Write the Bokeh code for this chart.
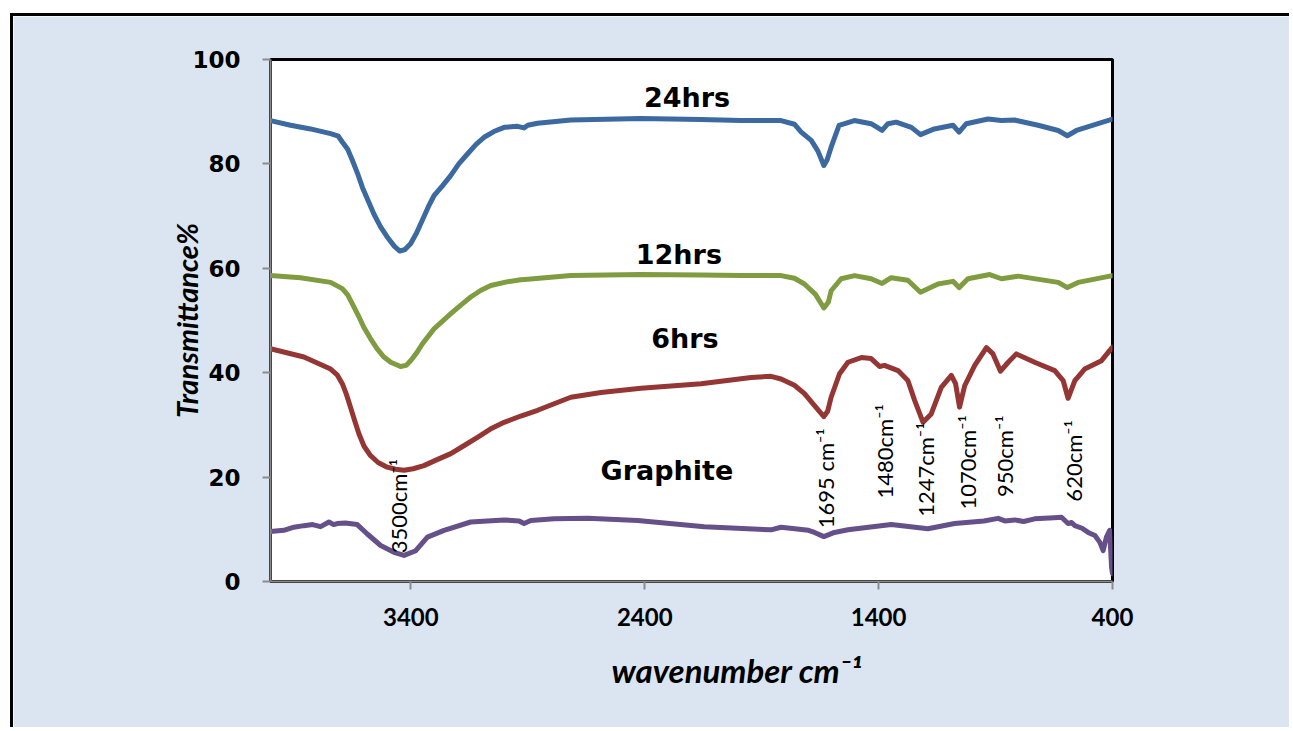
import math
from bokeh.plotting import figure
from bokeh.models import Range1d, FixedTicker, ColumnDataSource
from bokeh.core.properties import value
from bokeh.embed import file_html
from bokeh.resources import INLINE

# ---------------- data ----------------
wn_24 = [4000, 3914, 3829, 3743, 3710, 3693, 3670, 3650, 3628, 3607, 3582, 3558, 3530, 3501, 3470, 3447,
         3425, 3401, 3375, 3351, 3325, 3301, 3265, 3229, 3195, 3158, 3120, 3087, 3045, 3001, 2944, 2916,
         2900, 2858, 2716, 2416, 2159, 1988, 1817, 1760, 1731, 1688, 1660, 1634, 1620, 1603, 1569, 1504,
         1432, 1385, 1360, 1325, 1260, 1221, 1162, 1082, 1056, 1025, 932, 875, 819, 718, 632, 593, 554, 400]
t_24 = [88.3, 87.4, 86.7, 85.8, 85.3, 84.2, 82.8, 80.7, 78.2, 75.5, 72.9, 70.4, 68.0, 66.0, 64.2, 63.3,
        63.6, 64.7, 66.8, 69.2, 71.8, 73.9, 75.8, 77.8, 80.0, 81.9, 83.8, 85.1, 86.2, 87.0, 87.2, 86.9,
        87.4, 87.8, 88.4, 88.7, 88.5, 88.3, 88.3, 87.6, 86.1, 84.5, 82.5, 79.7, 80.8, 83.2, 87.4, 88.3,
        87.7, 86.4, 87.7, 88.0, 87.0, 85.6, 86.7, 87.4, 86.1, 87.7, 88.6, 88.3, 88.4, 87.4, 86.4, 85.4, 86.4, 88.6]

wn_12 = [4000, 3872, 3743, 3693, 3670, 3650, 3625, 3601, 3572, 3543, 3515, 3486, 3444, 3420, 3401, 3375,
         3351, 3301, 3229, 3185, 3144, 3100, 3058, 2990, 2930, 2900, 2716, 2416, 2159, 1988, 1817, 1760,
         1717, 1670, 1634, 1615, 1603, 1560, 1503, 1432, 1385, 1346, 1275, 1221, 1146, 1082, 1056, 1018,
         925, 875, 804, 632, 593, 547, 400]
t_12 = [58.6, 58.2, 57.3, 56.1, 54.9, 53.2, 51.0, 48.7, 46.5, 44.5, 43.0, 42.0, 41.2, 41.4, 42.3, 43.8,
        45.5, 48.4, 51.3, 53.0, 54.5, 55.8, 56.7, 57.4, 57.8, 57.9, 58.6, 58.8, 58.7, 58.6, 58.6, 58.1,
        57.0, 55.0, 52.4, 53.5, 55.7, 58.0, 58.6, 58.0, 57.1, 58.2, 57.7, 55.4, 57.0, 57.5, 56.3, 58.0,
        58.8, 58.0, 58.5, 57.3, 56.3, 57.3, 58.6]

wn_6 = [4000, 3857, 3743, 3715, 3693, 3675, 3658, 3640, 3622, 3600, 3572, 3540, 3501, 3465, 3429, 3390,
        3344, 3290, 3229, 3170, 3115, 3060, 3001, 2930, 2858, 2790, 2716, 2587, 2416, 2159, 1945, 1860,
        1817, 1760, 1717, 1674, 1634, 1618, 1603, 1567, 1531, 1474, 1432, 1396, 1375, 1317, 1275, 1246,
        1210, 1175, 1132, 1089, 1071, 1054, 1032, 989, 939, 911, 879, 846, 811, 733, 647, 611, 590, 561,
        519, 447, 400]
t_6 = [44.6, 43.0, 40.7, 39.6, 37.9, 35.8, 33.4, 30.8, 28.3, 25.9, 24.1, 22.8, 21.9, 21.5, 21.3, 21.6,
       22.2, 23.3, 24.5, 26.1, 27.6, 29.2, 30.5, 31.7, 32.8, 34.0, 35.3, 36.2, 37.0, 37.9, 39.1, 39.3,
       38.8, 37.6, 36.0, 33.7, 31.6, 32.6, 35.3, 39.8, 42.0, 42.9, 42.7, 41.2, 41.4, 40.4, 38.5, 34.7,
       30.5, 32.1, 37.2, 39.5, 37.9, 33.4, 37.5, 41.4, 44.8, 43.6, 40.3, 42.0, 43.6, 42.0, 40.4, 38.5, 35.1, 38.5,
       40.7, 42.3, 44.9]

wn_g = [4000, 3943, 3900, 3857, 3820, 3786, 3750, 3730, 3715, 3680, 3629, 3586, 3529, 3472, 3429, 3379,
        3329, 3258, 3144, 3001, 2937, 2916, 2887, 2787, 2644, 2430, 2145, 1860, 1817, 1700, 1674, 1634,
        1589, 1531, 1346, 1189, 1075, 950, 889, 860, 818, 780, 733, 650, 618, 590, 575, 561, 530, 504,
        475, 454, 440, 426, 412, 404, 400]
t_g = [9.6, 9.8, 10.4, 10.7, 10.9, 10.5, 11.4, 10.9, 11.1, 11.2, 10.9, 9.1, 6.9, 5.6, 5.0, 5.9,
       8.5, 9.8, 11.4, 11.8, 11.6, 11.1, 11.7, 12.0, 12.1, 11.7, 10.5, 9.9, 10.4, 9.8, 9.4, 8.6,
       9.4, 9.9, 10.9, 10.1, 11.1, 11.6, 12.1, 11.6, 11.8, 11.5, 12.0, 12.2, 12.3, 11.1, 11.3, 10.7, 10.2, 9.4,
       8.8, 7.5, 5.9, 8.5, 9.8, 2.7, 1.5]

series_names = ["24hrs", "12hrs", "6hrs", "Graphite"]
series_label_x = [2219, 2254, 2228, 2305]
series_label_y = [92.7, 62.6, 46.6, 21.3]

peak_labels = ["3500cm\u207b\u00b9", "1695 cm\u207b\u00b9", "1480cm\u207b\u00b9", "1247cm\u207b\u00b9",
               "1070cm\u207b\u00b9", "950cm\u207b\u00b9", "620cm\u207b\u00b9"]
peak_label_x = [3452, 1625, 1375, 1200, 1020, 862, 567]
peak_label_y = [5.4, 10.2, 15.9, 12.4, 13.8, 16.2, 15.3]

x_ticks = [3400, 2400, 1400, 400]
y_ticks = [0, 20, 40, 60, 80, 100]

# ---------------- figure ----------------
BG = "#dbe5f1"
p = figure(width=1279, height=714, output_backend="svg", toolbar_location=None,
           x_range=Range1d(4000, 400), y_range=Range1d(0, 100),
           min_border_left=257, min_border_right=180, min_border_top=43, min_border_bottom=149)
p.styles = {"margin-left": "10px", "margin-top": "13px",
            "border-top": "3px solid black", "border-left": "3px solid black"}
p.border_fill_color = BG
p.background_fill_color = "white"
p.outline_line_color = "black"
p.outline_line_width = 3
p.xgrid.visible = False
p.ygrid.visible = False

colors = ["#3c69a0", "#7f9c41", "#943634", "#66508a"]
for wn, t, c in [(wn_24, t_24, colors[0]), (wn_12, t_12, colors[1]), (wn_6, t_6, colors[2]), (wn_g, t_g, colors[3])]:
    p.line(wn, t, line_color=c, line_width=5, line_join="round", line_cap="round")

for ax in (p.xaxis[0], p.yaxis[0]):
    ax.axis_line_color = "#8c8c8c"
    ax.axis_line_width = 2
    ax.major_tick_line_color = "#8c8c8c"
    ax.major_tick_line_width = 2
    ax.major_tick_out = 8
    ax.major_tick_in = 0
    ax.minor_tick_out = 0
    ax.minor_tick_in = 0
    ax.major_label_text_color = "black"
    ax.axis_label_text_color = "black"
    ax.axis_label_text_font = "Lato"
    ax.axis_label_text_font_style = "bold italic"

p.xaxis.ticker = FixedTicker(ticks=x_ticks)
p.yaxis.ticker = FixedTicker(ticks=y_ticks)
p.xaxis.major_label_text_font = "Lato"
p.xaxis.major_label_text_font_style = "bold"
p.xaxis.major_label_text_font_size = "24px"
p.xaxis.major_label_standoff = 18
p.yaxis.major_label_text_font = "DejaVu Sans"
p.yaxis.major_label_text_font_style = "bold"
p.yaxis.major_label_text_font_size = "23px"
p.yaxis.major_label_standoff = 22

p.yaxis.axis_label = "Transmittance%"
p.yaxis.axis_label_text_font_size = "29px"
p.yaxis.axis_label_standoff = -15
p.xaxis.axis_label = "\u2003\u2003\u2003\u2003wavenumber cm\u207b\u00b9"
p.xaxis.axis_label_text_font_size = "33px"
p.xaxis.axis_label_standoff = 21

# series labels
src_names = ColumnDataSource(dict(x=series_label_x, y=series_label_y, text=series_names))
p.text(x="x", y="y", text="text", source=src_names, text_font=value("DejaVu Sans"),
       text_font_style="bold", text_font_size="27px", text_align="center", text_baseline="middle",
       text_color="black")

# peak labels
src_peaks = ColumnDataSource(dict(x=peak_label_x, y=peak_label_y, text=peak_labels))
p.text(x="x", y="y", text="text", source=src_peaks, angle=math.pi / 2, text_font=value("Lato"),
       text_font_size="22px", text_align="left", text_baseline="middle", text_color="black")

open("out.html", "w").write(file_html(p, INLINE))
